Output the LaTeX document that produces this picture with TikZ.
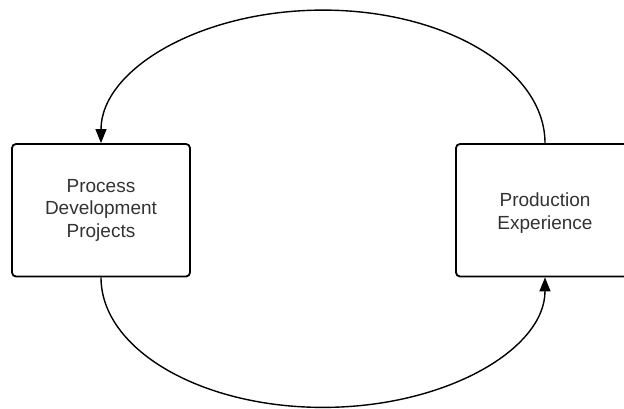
\documentclass[tikz,border=0pt]{standalone}
\usepackage{fontspec}
\setmainfont{Liberation Sans}
\usetikzlibrary{arrows.meta}
\begin{document}
\begin{tikzpicture}[x=1pt,y=1pt,
  box/.style={draw=black, line width=1.8pt, rounded corners=4pt, fill=white,
    minimum width=178pt, minimum height=132.5pt, inner sep=0pt,
    align=center, text=black!80,
    font=\fontsize{19}{22.5}\selectfont},
  flow/.style={line width=1.4pt, -{Triangle[length=14pt,width=11pt]}}]
  \useasboundingbox (0,0) rectangle (624,408);
  \clip (0,0) rectangle (624,408);
  \fill[white] (0,0) rectangle (624,408);
  % the two stages of the cycle
  \node[box] (pd) at (101,197.75) {Process\\Development\\Projects};
  \node[box] (pe) at (545,197.75) {};
  \node[align=center, text=black!80, font=\fontsize{19}{22.5}\selectfont]
    (pet) at ([yshift=-3pt]pe.center) {Production\\Experience};
  % feedback from production back to development
  \draw[flow] (pe.north) arc[start angle=0, end angle=180, x radius=222pt, y radius=133pt];
  % development results carried into production
  \draw[flow] (pd.south) arc[start angle=180, end angle=360, x radius=222pt, y radius=130pt];
\end{tikzpicture}
\end{document}
